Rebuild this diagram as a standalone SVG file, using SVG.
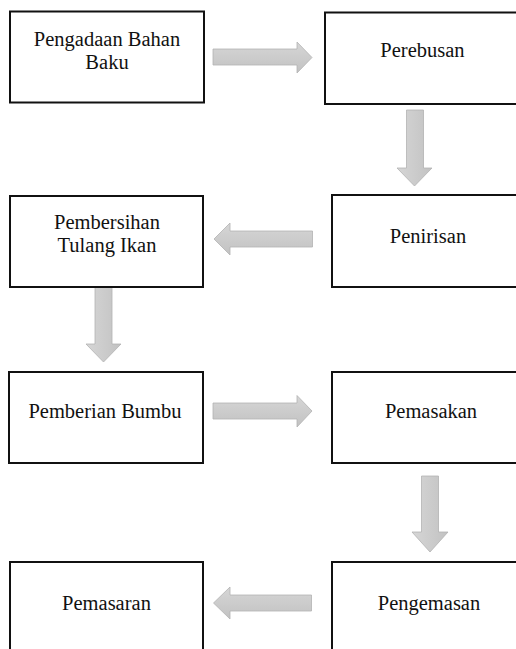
<svg xmlns="http://www.w3.org/2000/svg" width="516" height="649" viewBox="0 0 516 649">
<defs>
<linearGradient id="gh" x1="0" y1="0" x2="0" y2="1"><stop offset="0" stop-color="#d6d6d6"/><stop offset="1" stop-color="#c2c2c2"/></linearGradient>
<linearGradient id="gv" x1="0" y1="0" x2="1" y2="0"><stop offset="0" stop-color="#d6d6d6"/><stop offset="1" stop-color="#c2c2c2"/></linearGradient>
</defs>
<style>
.box{fill:#fff;stroke:#111;stroke-width:2}
.t{font-family:'Liberation Serif','Times New Roman','DejaVu Serif',serif;font-size:20.5px;fill:#111;text-anchor:middle}
.ah{fill:url(#gh);stroke:#b3b3b3;stroke-width:0.8}
.av{fill:url(#gv);stroke:#b3b3b3;stroke-width:0.8}
</style>
<rect width="516" height="649" fill="#fff"/>
<g id="connectors">
<polygon class="ah" points="213,49 297,49 297,42 312,57.5 297,73 297,65 213,65"/>
<polygon class="av" points="406.5,110 423.5,110 423.5,168 432,168 414.5,186 397,168 406.5,168"/>
<polygon class="ah" points="312.5,231 230,231 230,223 214,239 230,255 230,247 312.5,247"/>
<polygon class="av" points="95,287 112,287 112,344 121,344 103.5,362 86,344 95,344"/>
<polygon class="ah" points="213,403 297,403 297,395.5 312,411 297,427 297,419 213,419"/>
<polygon class="av" points="421.5,476 438.5,476 438.5,532 448,532 430,552 412,532 421.5,532"/>
<polygon class="ah" points="311.5,595 230,595 230,587 213.5,603 230,619 230,611 311.5,611"/>
</g>
<g id="n1"><rect class="box" x="10" y="11.5" width="194" height="91"/><text class="t" font-family="Liberation Serif, serif" x="107" y="45.5">Pengadaan Bahan</text><text class="t" font-family="Liberation Serif, serif" x="107" y="68.5">Baku</text></g>
<g id="n2"><rect class="box" x="325" y="12.5" width="205" height="91.5"/><text class="t" font-family="Liberation Serif, serif" x="422.5" y="57">Perebusan</text></g>
<g id="n3"><rect class="box" x="10" y="196" width="193" height="91"/><text class="t" font-family="Liberation Serif, serif" x="107" y="228.5">Pembersihan</text><text class="t" font-family="Liberation Serif, serif" x="107" y="251.5">Tulang Ikan</text></g>
<g id="n4"><rect class="box" x="332" y="195" width="200" height="92"/><text class="t" font-family="Liberation Serif, serif" x="428" y="243">Penirisan</text></g>
<g id="n5"><rect class="box" x="9" y="372" width="194" height="91"/><text class="t" font-family="Liberation Serif, serif" x="105" y="418">Pemberian Bumbu</text></g>
<g id="n6"><rect class="box" x="332" y="372" width="200" height="91"/><text class="t" font-family="Liberation Serif, serif" x="431" y="418">Pemasakan</text></g>
<g id="n7"><rect class="box" x="10" y="562" width="193" height="100"/><text class="t" font-family="Liberation Serif, serif" x="106.5" y="610">Pemasaran</text></g>
<g id="n8"><rect class="box" x="332" y="562" width="200" height="100"/><text class="t" font-family="Liberation Serif, serif" x="429" y="610">Pengemasan</text></g>
</svg>
